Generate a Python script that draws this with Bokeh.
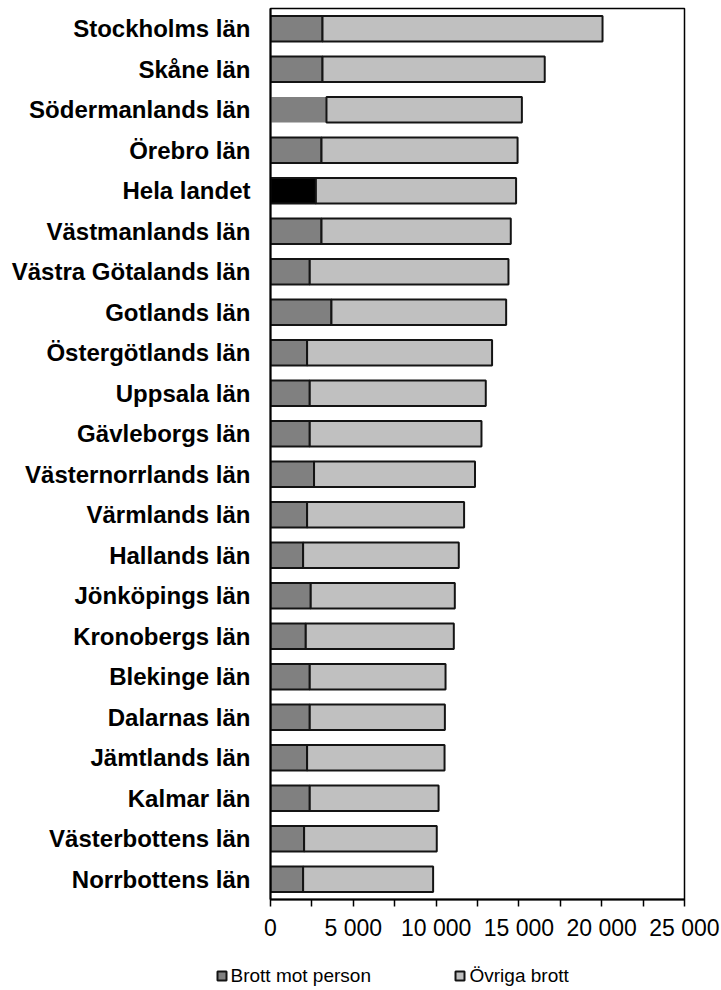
from bokeh.plotting import figure
from bokeh.layouts import column
from bokeh.models import (FactorRange, Range1d, FixedTicker, ColumnDataSource)
from bokeh.embed import file_html
from bokeh.resources import INLINE

regions = ["Stockholms län", "Skåne län", "Södermanlands län", "Örebro län",
           "Hela landet", "Västmanlands län", "Västra Götalands län",
           "Gotlands län", "Östergötlands län", "Uppsala län", "Gävleborgs län",
           "Västernorrlands län", "Värmlands län", "Hallands län",
           "Jönköpings län", "Kronobergs län", "Blekinge län", "Dalarnas län",
           "Jämtlands län", "Kalmar län", "Västerbottens län", "Norrbottens län"]
brott_mot_person = [3140, 3140, 3380, 3080, 2740, 3080, 2370, 3680, 2210, 2370, 2370,
                    2630, 2210, 1970, 2430, 2130, 2370, 2370, 2210, 2370, 2030, 1970]
ovriga_brott = [16910, 13420, 11800, 11840, 12090, 11430, 12000, 10550, 11170, 10630, 10370,
                9720, 9480, 9400, 8700, 8940, 8200, 8160, 8300, 7780, 8010, 7850]
x_tick_values = [0, 5000, 10000, 15000, 20000, 25000]
x_tick_labels = ["0", "5 000", "10 000", "15 000", "20 000", "25 000"]
x_minor_values = [2500, 7500, 12500, 17500, 22500]
series_names = ["Brott mot person", "Övriga brott"]

PERSON = "#808080"
OTHER = "#c0c0c0"
TOTAL_PERSON = "#000000"
EDGE = "#141414"
series_colors = [PERSON, OTHER]

person_fill = [TOTAL_PERSON if r == "Hela landet" else PERSON for r in regions]
person_edge_alpha = [0.0 if r == "Södermanlands län" else 1.0 for r in regions]
ends = [a + b for a, b in zip(brott_mot_person, ovriga_brott)]

src = ColumnDataSource(dict(y=regions, person=brott_mot_person, other=ovriga_brott,
                            end=ends, pfill=person_fill, palpha=person_edge_alpha))

p = figure(width=721, height=945, output_backend="svg", toolbar_location=None,
           y_range=FactorRange(factors=list(reversed(regions)), range_padding=0),
           x_range=Range1d(0, 25000),
           min_border_left=270, min_border_right=37, min_border_top=8,
           min_border_bottom=46)
p.frame_align = False

p.hbar(y="y", left=0, right="person", height=0.63, source=src,
       fill_color="pfill", line_color=EDGE, line_alpha="palpha", line_width=2)
p.hbar(y="y", left="person", right="end", height=0.63, source=src,
       fill_color=OTHER, line_color=EDGE, line_width=2)

p.xgrid.visible = False
p.ygrid.visible = False
p.outline_line_color = "#000000"
p.outline_line_width = 1.5

xa = p.xaxis[0]
xa.ticker = FixedTicker(ticks=x_tick_values, minor_ticks=x_minor_values)
xa.major_label_overrides = {v: l for v, l in zip(x_tick_values, x_tick_labels)}
xa.major_label_text_font = "Liberation Sans"
xa.major_label_text_font_size = "23px"
xa.major_label_text_color = "#000000"
xa.major_tick_in = 0
xa.major_tick_out = 7
xa.minor_tick_in = 0
xa.minor_tick_out = 7
xa.major_tick_line_color = "#000000"
xa.minor_tick_line_color = "#000000"
xa.major_tick_line_width = 1.5
xa.minor_tick_line_width = 1.5
xa.axis_line_color = "#000000"
xa.axis_line_width = 2
xa.major_label_standoff = 8

ya = p.yaxis[0]
ya.major_tick_in = 0
ya.major_tick_out = 0
ya.minor_tick_in = 0
ya.minor_tick_out = 0
ya.axis_line_color = "#000000"
ya.axis_line_width = 2
ya.major_label_text_font = "Liberation Sans"
ya.major_label_text_font_style = "bold"
ya.major_label_text_font_size = "24px"
ya.major_label_text_color = "#000000"
ya.major_label_standoff = 20

# legend strip below the chart (screen-like coordinates: x in px, y in page px)
lg = figure(width=721, height=45, output_backend="svg", toolbar_location=None,
            x_range=Range1d(0, 721), y_range=Range1d(990, 945), min_border=0)
lg.frame_align = False
lg.axis.visible = False
lg.xgrid.visible = False
lg.ygrid.visible = False
lg.outline_line_color = None

key_left = [217, 455]
key_y = [975.5, 975.5]
text_left = [230, 469]
text_y = [975, 975]
keys = ColumnDataSource(dict(x=[k + 4.5 for k in key_left], y=key_y,
                             tx=text_left, ty=text_y, name=series_names,
                             color=series_colors))
lg.rect(x="x", y="y", width=9, height=9, source=keys,
        fill_color="color", line_color=EDGE, line_width=2)
lg.text(x="tx", y="ty", text="name", source=keys, text_baseline="middle",
        text_align="left", text_font_size="19px", text_color="#000000",
        text_font={"value": "Liberation Sans"})

page = column(p, lg, spacing=0)
open("out.html", "w").write(file_html(page, INLINE))
